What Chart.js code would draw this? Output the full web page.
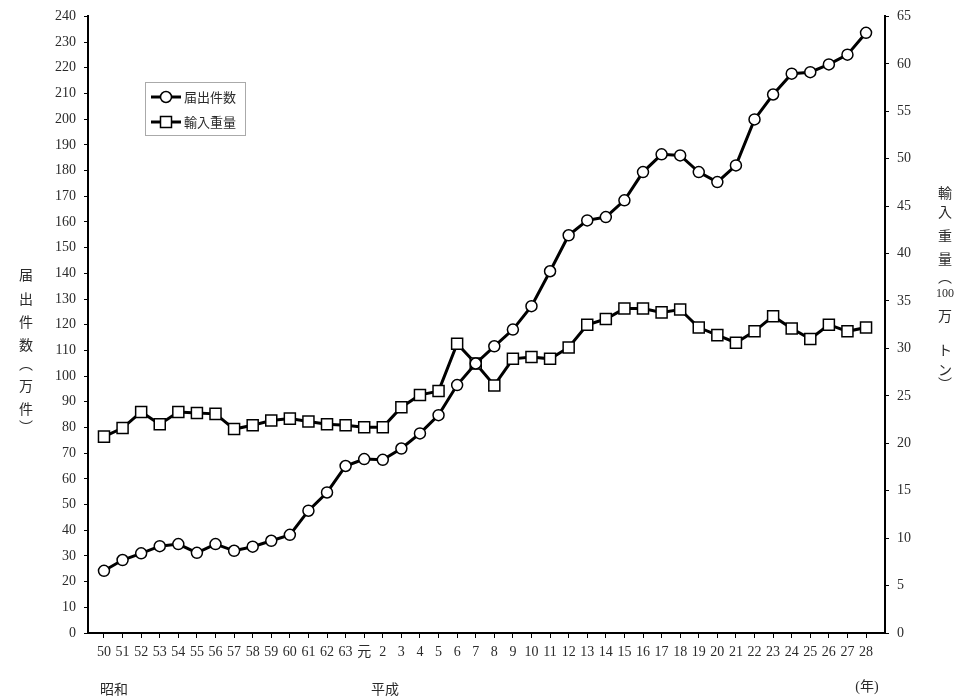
<!DOCTYPE html>
<html>
<head>
<meta charset="utf-8">
<script src="https://cdn.jsdelivr.net/npm/chart.js@4/dist/chart.umd.min.js"></script>
<style>
html,body{margin:0;padding:0;background:#fff;}
#wrap{width:962px;height:697px;position:relative;}
</style>
</head>
<body>
<div id="wrap"><canvas id="c"></canvas></div>
<script>
const categories = ['50','51','52','53','54','55','56','57','58','59','60','61','62','63','元','2','3','4','5','6','7','8','9','10','11','12','13','14','15','16','17','18','19','20','21','22','23','24','25','26','27','28'];
const notifications = [24.2,28.4,31.0,33.8,34.6,31.2,34.6,32.0,33.6,35.9,38.2,47.6,54.7,65.0,67.7,67.4,71.8,77.7,84.8,96.5,104.9,111.6,118.1,127.2,140.8,154.8,160.6,161.9,168.4,179.4,186.3,185.9,179.4,175.5,182.0,199.9,209.6,217.7,218.3,221.3,225.1,233.6];
const importWeight = [20.7,21.6,23.3,22.0,23.3,23.2,23.1,21.5,21.9,22.4,22.6,22.3,22.0,21.9,21.7,21.7,23.8,25.1,25.5,30.5,28.4,26.1,28.9,29.1,28.9,30.1,32.5,33.1,34.2,34.2,33.8,34.1,32.2,31.4,30.6,31.8,33.4,32.1,31.0,32.5,31.8,32.2];
const seriesNames = ['届出件数','輸入重量'];
const leftTitle = ['届','出','件','数','︵','万','件','︶'];
const rightTitle = ['輸','入','重','量','︵','100','万','ト','ン','︶'];
const eraLabels = ['昭和','平成','(年)'];

const NUMFONT = "'Liberation Serif','Noto Sans CJK JP',serif";
const TXT = '#2a2a2a';

const extras = {
  id: 'extras',
  afterDraw(chart) {
    const ctx = chart.ctx;
    ctx.save();
    ctx.fillStyle = TXT;
    ctx.textAlign = 'center';
    ctx.textBaseline = 'middle';
    // left vertical title
    ctx.font = "14px 'Noto Sans CJK JP'";
    const ly = [275, 299, 322, 345, 364, 386, 409, 427];
    leftTitle.forEach((ch, i) => ctx.fillText(ch, 26, ly[i]));
    // right vertical title
    const ry = [193, 212, 236, 259, 277, 294, 316, 350, 370, 384];
    rightTitle.forEach((ch, i) => {
      if (ch === '100') { ctx.font = "12px 'Liberation Serif'"; }
      else { ctx.font = "14px 'Noto Sans CJK JP'"; }
      ctx.fillText(ch, 945, ry[i]);
    });
    // era labels
    ctx.font = "14px 'Noto Sans CJK JP'";
    ctx.fillText(eraLabels[0], 114, 689);
    ctx.fillText(eraLabels[1], 385, 689);
    ctx.font = "14px 'Liberation Serif','Noto Sans CJK JP'";
    ctx.fillText(eraLabels[2], 867, 687);
    // legend
    ctx.strokeStyle = '#aaa';
    ctx.lineWidth = 1;
    ctx.strokeRect(145.5, 82.5, 100, 53);
    const items = [{y: 97, style: 'circle'}, {y: 122, style: 'rect'}];
    items.forEach((it, i) => {
      ctx.strokeStyle = '#000';
      ctx.lineWidth = 3;
      ctx.beginPath(); ctx.moveTo(151, it.y); ctx.lineTo(181, it.y); ctx.stroke();
      ctx.fillStyle = '#fff';
      ctx.lineWidth = 1.5;
      ctx.beginPath();
      if (it.style === 'circle') ctx.arc(166, it.y, 5.5, 0, Math.PI * 2);
      else ctx.rect(160.5, it.y - 5.5, 11, 11);
      ctx.fill(); ctx.stroke();
      ctx.fillStyle = TXT;
      ctx.font = "13px 'Noto Sans CJK JP'";
      ctx.textAlign = 'left';
      ctx.fillText(seriesNames[i], 184, it.y);
    });
    ctx.restore();
  }
};

new Chart(document.getElementById('c'), {
  type: 'line',
  data: {
    datasets: [
      {
        label: seriesNames[0],
        data: notifications.map((v, i) => ({x: i, y: v})),
        yAxisID: 'y',
        borderColor: '#000',
        borderWidth: 3,
        pointStyle: 'circle',
        pointRadius: 5.5,
        pointBorderWidth: 1.5,
        pointBackgroundColor: '#fff',
        pointBorderColor: '#000',
        tension: 0
      },
      {
        label: seriesNames[1],
        data: importWeight.map((v, i) => ({x: i, y: v})),
        yAxisID: 'y1',
        borderColor: '#000',
        borderWidth: 3,
        pointStyle: 'rect',
        pointRadius: 7.8,
        pointBorderWidth: 1.5,
        pointBackgroundColor: '#fff',
        pointBorderColor: '#000',
        tension: 0
      }
    ]
  },
  options: {
    responsive: true,
    maintainAspectRatio: false,
    animation: false,
    layout: {padding: {top: 16, left: 0, right: 0, bottom: 0}},
    plugins: {legend: {display: false}, tooltip: {enabled: false}},
    scales: {
      x: {
        type: 'linear',
        min: -0.86,
        max: 42.02,
        afterBuildTicks: (s) => { s.ticks = categories.map((_, i) => ({value: i})); },
        afterFit: (s) => { s.height = 64; },
        border: {color: '#000', width: 2},
        grid: {drawOnChartArea: false, drawTicks: true, tickLength: 5, color: '#000'},
        ticks: {
          autoSkip: false, maxRotation: 0, minRotation: 0, padding: 6,
          color: TXT,
          font: {family: NUMFONT, size: 14},
          callback: (v) => categories[v]
        }
      },
      y: {
        position: 'left',
        min: 0, max: 240,
        afterFit: (s) => { s.width = 88; },
        border: {color: '#000', width: 2},
        grid: {drawOnChartArea: false, drawTicks: true, tickLength: 4, color: '#000'},
        ticks: {stepSize: 10, padding: 8, color: TXT, font: {family: NUMFONT, size: 14}}
      },
      y1: {
        position: 'right',
        min: 0, max: 65,
        afterFit: (s) => { s.width = 77; },
        border: {color: '#000', width: 2},
        grid: {drawOnChartArea: false, drawTicks: true, tickLength: 4, color: '#000'},
        ticks: {stepSize: 5, padding: 8, color: TXT, font: {family: NUMFONT, size: 14}}
      }
    }
  },
  plugins: [extras]
});
</script>
</body>
</html>
